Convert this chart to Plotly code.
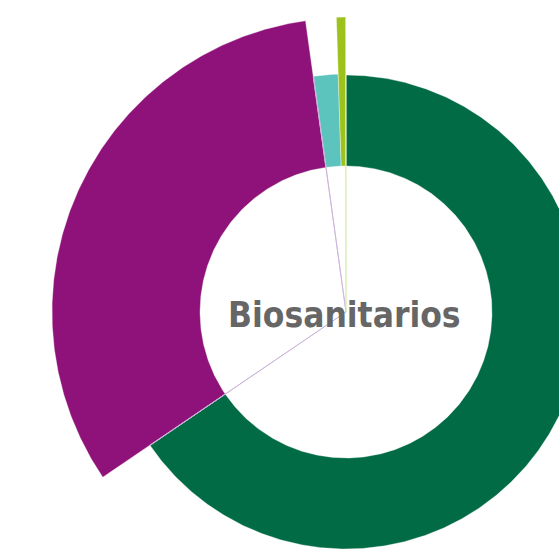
import numpy as np
import plotly.graph_objects as go

# Share of each category (%) and the outer radius of its sector (px units)
categorias = ["Incineración", "Sin clasificar A", "Autoclave", "Sin clasificar B",
              "Desinfección química", "Otros tratamientos", "Sin clasificar C"]
porcentajes = [65.5, 0.02, 32.3, 0.02, 1.66, 0.5, 0.02]
radios = [237, 237, 294, 237, 238, 295, 237]
colores = ["#006B45", "#C9B3D6", "#8E1279", "#C9B3D6", "#5CC4BC", "#9DC21B", "#D6EBB0"]
# thin "Sin clasificar" slices start at the centre, the rest at the hole edge
desde_centro = [False, True, False, True, False, False, True]

titulo = "Biosanitarios"
radio_hueco = 146

W, H = 559, 550
cx, cy = 346, 312  # centre of the chart in page pixels

fig = go.Figure()

total = sum(porcentajes)
inicio = 0.0
for nombre, p, r, c, centro in zip(categorias, porcentajes, radios, colores, desde_centro):
    barrido = 360.0 * p / total
    fin = inicio + barrido
    n = max(4, int(barrido * 2))
    a = np.radians(np.linspace(inicio, fin, n))
    r_in = 0 if centro else radio_hueco
    xs = np.concatenate([r * np.sin(a), r_in * np.sin(a[::-1])])
    ys = np.concatenate([r * np.cos(a), r_in * np.cos(a[::-1])])
    xs = np.append(xs, xs[0])
    ys = np.append(ys, ys[0])
    if centro:
        fig.add_trace(go.Scatter(x=xs, y=ys, mode="lines", fill="toself",
                                 fillcolor=c, line=dict(color=c, width=0.8),
                                 name=nombre, hoverinfo="name"))
    else:
        fig.add_trace(go.Scatter(x=xs, y=ys, mode="lines", fill="toself",
                                 fillcolor=c, line=dict(color="rgba(255,255,255,0.6)", width=0.6),
                                 name=nombre, hoverinfo="name"))
    inicio = fin

# draw the thin slices last so their strokes sit over the neighbours
fig.data = tuple(sorted(fig.data, key=lambda t: t.name.startswith("Sin clasificar")))

fig.add_annotation(x=-2, y=-3, text=titulo, showarrow=False,
                   font=dict(family="Liberation Sans Narrow, DejaVu Sans Condensed, Roboto Condensed, Roboto",
                             size=35, color="#666666", weight="bold"),
                   xanchor="center", yanchor="middle")

fig.update_layout(
    width=W, height=H,
    margin=dict(l=0, r=0, t=0, b=0),
    paper_bgcolor="white", plot_bgcolor="white",
    showlegend=False,
    xaxis=dict(range=[-cx, W - cx], visible=False, fixedrange=True),
    yaxis=dict(range=[cy - H, cy], visible=False, fixedrange=True),
)

fig.write_html("out.html")
